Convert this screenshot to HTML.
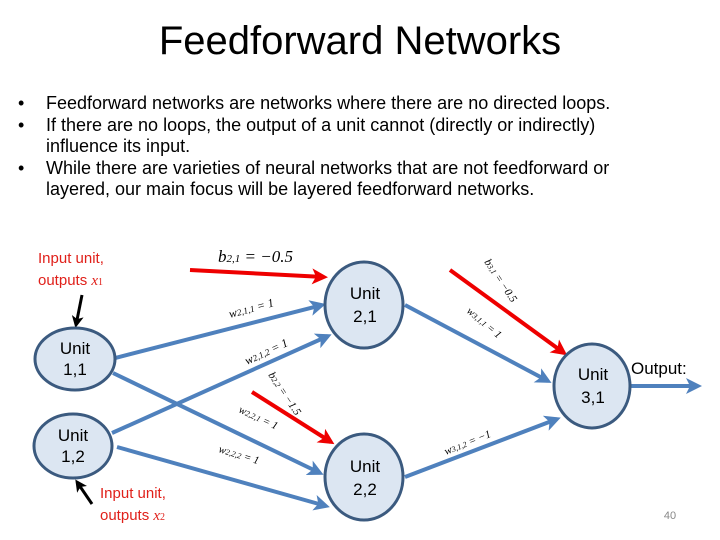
<!DOCTYPE html>
<html><head><style>
body{margin:0;width:720px;height:540px;background:#fff;position:relative;overflow:hidden;font-family:"Liberation Sans",sans-serif}
.t{position:absolute;left:0;width:720px;top:19px;text-align:center;font-size:40px;color:#000}
ul{position:absolute;left:18px;top:93px;margin:0;padding:0;list-style:none;font-size:18px;line-height:21px;color:#000;width:700px;white-space:nowrap}
li{position:relative;padding-left:28px;margin-bottom:1px}
li:before{content:"•";position:absolute;left:0}
</style></head><body>
<div class="t">Feedforward Networks</div>
<ul>
<li>Feedforward networks are networks where there are no directed loops.</li>
<li>If there are no loops, the output of a unit cannot (directly or indirectly)<br>influence its input.</li>
<li>While there are varieties of neural networks that are not feedforward or<br>layered, our main focus will be layered feedforward networks.</li>
</ul>
<svg width="720" height="540" style="position:absolute;left:0;top:0">
<defs>
<marker id="b" markerWidth="4" markerHeight="4" refX="3" refY="2" orient="auto"><path d="M0,0 L4,2 L0,4 L1,2Z" fill="#4f81bd"/></marker>
<marker id="r" markerWidth="4" markerHeight="4" refX="3" refY="2" orient="auto"><path d="M0,0 L4,2 L0,4 L1,2Z" fill="#e00"/></marker>
<marker id="k" markerWidth="4" markerHeight="4" refX="3" refY="2" orient="auto"><path d="M0,0 L4,2 L0,4 L1,2Z" fill="#000"/></marker>
</defs>
<g stroke="#4f81bd" stroke-width="4" marker-end="url(#b)">
<line x1="115" y1="358" x2="322" y2="305"/>
<line x1="112" y1="433" x2="328" y2="336"/>
<line x1="113" y1="373" x2="320" y2="473"/>
<line x1="117" y1="447" x2="326" y2="506"/>
<line x1="405" y1="305" x2="548" y2="381"/>
<line x1="405" y1="477" x2="557" y2="419"/>
<line x1="630" y1="386" x2="698" y2="386"/>
</g>
<g stroke="#e00" stroke-width="4" marker-end="url(#r)">
<line x1="190" y1="270" x2="324" y2="277"/>
<line x1="252" y1="392" x2="331" y2="442"/>
<line x1="450" y1="270" x2="564" y2="353"/>
</g>
<g stroke="#000" stroke-width="3" marker-end="url(#k)">
<line x1="82" y1="295" x2="76" y2="325"/>
<line x1="92" y1="504" x2="77" y2="482"/>
</g>
<g fill="#dce6f2" stroke="#3b5a7f" stroke-width="3">
<ellipse cx="75" cy="359" rx="40" ry="31"/>
<ellipse cx="73" cy="446" rx="39" ry="32"/>
<ellipse cx="364" cy="305" rx="39" ry="43"/>
<ellipse cx="364" cy="477" rx="39" ry="43"/>
<ellipse cx="592" cy="386" rx="38" ry="42"/>
</g>
<g font-size="17" text-anchor="middle" fill="#000">
<text x="75" y="354">Unit</text><text x="75" y="375">1,1</text>
<text x="73" y="441">Unit</text><text x="73" y="462">1,2</text>
<text x="365" y="299">Unit</text><text x="365" y="322">2,1</text>
<text x="365" y="472">Unit</text><text x="365" y="495">2,2</text>
<text x="593" y="380">Unit</text><text x="593" y="403">3,1</text>
</g>
<text x="631" y="374" font-size="17">Output:</text>
<g fill="#e0201a" font-size="15">
<text x="38" y="263">Input unit,</text><text x="38" y="285">outputs <tspan font-family="Liberation Serif" font-style="italic">x</tspan><tspan font-size="10" font-family="Liberation Serif">1</tspan></text>
<text x="100" y="498">Input unit,</text><text x="100" y="520">outputs <tspan font-family="Liberation Serif" font-style="italic">x</tspan><tspan font-size="10" font-family="Liberation Serif">2</tspan></text>
</g>
<g font-family="Liberation Serif" font-style="italic" fill="#000">
<text x="218" y="262" font-size="17">b<tspan font-size="11">2,1</tspan> = −0.5</text>
<text font-size="12" transform="translate(230,318) rotate(-15)">w<tspan font-size="9">2,1,1</tspan> = 1</text>
<text font-size="12" transform="translate(247,365) rotate(-25)">w<tspan font-size="9">2,1,2</tspan> = 1</text>
<text font-size="11" transform="translate(268,375) rotate(56)">b<tspan font-size="8">2,2</tspan> = −1.5</text>
<text font-size="11" transform="translate(238,412) rotate(25)">w<tspan font-size="8">2,2,1</tspan> = 1</text>
<text font-size="11" transform="translate(218,452) rotate(17)">w<tspan font-size="8">2,2,2</tspan> = 1</text>
<text font-size="11" transform="translate(484,262) rotate(56)">b<tspan font-size="8">3,1</tspan> = −0.5</text>
<text font-size="11" transform="translate(466,312) rotate(40)">w<tspan font-size="8">3,1,1</tspan> = 1</text>
<text font-size="11" transform="translate(446,455) rotate(-22)">w<tspan font-size="8">3,1,2</tspan> = −1</text>
</g>
<text x="670" y="519" font-size="11" text-anchor="middle" fill="#888">40</text>
</svg>
</body></html>
